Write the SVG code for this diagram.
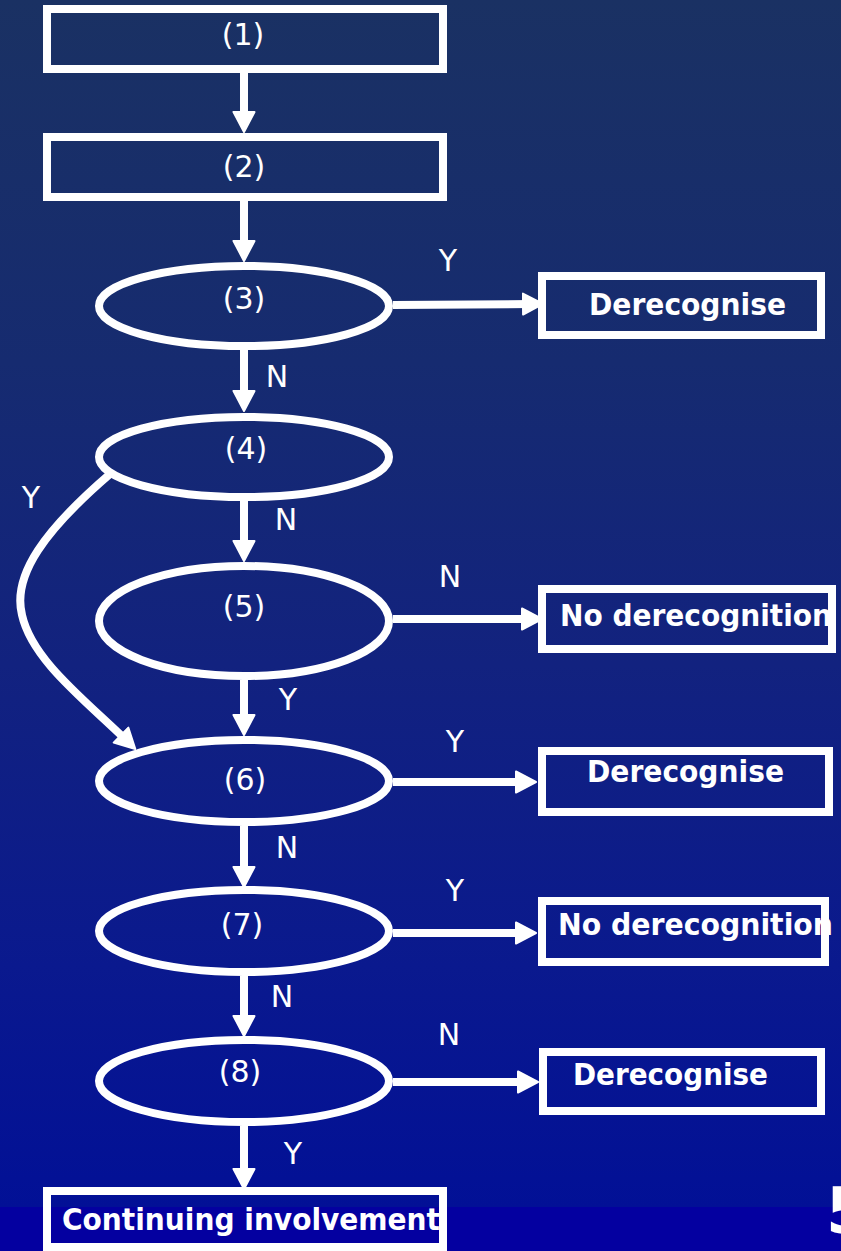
<svg xmlns="http://www.w3.org/2000/svg" width="841" height="1251" viewBox="0 0 841 1251">
<defs>
<linearGradient id="bg" x1="0" y1="0" x2="0" y2="1207" gradientUnits="userSpaceOnUse">
<stop offset="0" stop-color="#1a3163"/>
<stop offset="0.3" stop-color="#162b70"/>
<stop offset="0.55" stop-color="#12227f"/>
<stop offset="0.8" stop-color="#0a198e"/>
<stop offset="1" stop-color="#021096"/>
</linearGradient>
<marker id="ah" viewBox="0 0 22 24" refX="8" refY="12" markerWidth="22" markerHeight="24" markerUnits="userSpaceOnUse" orient="auto">
<path d="M1,1.5 L21,12 L1,22.5 Z" fill="#fff" stroke="#fff" stroke-width="2" stroke-linejoin="round"/>
</marker>
<style>
.box{fill:none;stroke:#fff;stroke-width:8}
.ell{fill:none;stroke:#fff;stroke-width:8}
.con{fill:none;stroke:#fff;stroke-width:8;marker-end:url(#ah)}
.num{font-family:"DejaVu Sans","Liberation Sans",sans-serif;font-size:30px;fill:#fff;text-anchor:middle}
.lbl{font-family:"DejaVu Sans","Liberation Sans",sans-serif;font-size:30px;fill:#fff;text-anchor:middle}
.bt{font-family:"DejaVu Sans","Liberation Sans",sans-serif;font-size:31px;font-weight:bold;fill:#fff}
</style>
</defs>
<rect x="0" y="0" width="841" height="1251" fill="url(#bg)"/>
<rect x="0" y="1207" width="841" height="44" fill="#0400a0"/>

<g id="connectors">
<path class="con" d="M244,73 L244,119"/>
<path class="con" d="M244,201 L244,248"/>
<path class="con" d="M244,350 L244,398"/>
<path class="con" d="M244,501 L244,548"/>
<path class="con" d="M244,680 L244,722"/>
<path class="con" d="M244,826 L244,874"/>
<path class="con" d="M244,976 L244,1023"/>
<path class="con" d="M244,1126 L244,1176"/>
<path class="con" d="M393,305 L530,304"/>
<path class="con" d="M393,619 L529,619"/>
<path class="con" d="M393,782 L523,782"/>
<path class="con" d="M393,933 L523,933"/>
<path class="con" d="M393,1082 L525,1082"/>
<path class="con" d="M110,474 C45,530 12,575 22,615 C32,660 85,700 126,740"/>
</g>
<g id="edge-labels">
<text class="lbl" x="448" y="271">Y</text>
<text class="lbl" x="277" y="387">N</text>
<text class="lbl" x="31" y="508">Y</text>
<text class="lbl" x="286" y="530">N</text>
<text class="lbl" x="450" y="587">N</text>
<text class="lbl" x="288" y="710">Y</text>
<text class="lbl" x="455" y="752">Y</text>
<text class="lbl" x="287" y="858">N</text>
<text class="lbl" x="455" y="901">Y</text>
<text class="lbl" x="282" y="1007">N</text>
<text class="lbl" x="449" y="1045">N</text>
<text class="lbl" x="293" y="1164">Y</text>
</g>

<g id="n1"><rect class="box" x="47" y="9" width="396" height="60"/><text class="num" x="243" y="45">(1)</text></g>
<g id="n2"><rect class="box" x="47" y="137" width="396" height="60"/><text class="num" x="244" y="177">(2)</text></g>
<g id="n3"><ellipse class="ell" cx="244" cy="306" rx="145" ry="40"/><text class="num" x="244" y="309">(3)</text></g>
<g id="n4"><ellipse class="ell" cx="244" cy="457" rx="145" ry="40"/><text class="num" x="246" y="459">(4)</text></g>
<g id="n5"><ellipse class="ell" cx="244" cy="621" rx="145" ry="55"/><text class="num" x="244" y="617">(5)</text></g>
<g id="n6"><ellipse class="ell" cx="244" cy="781" rx="145" ry="41"/><text class="num" x="245" y="790">(6)</text></g>
<g id="n7"><ellipse class="ell" cx="244" cy="931" rx="145" ry="41"/><text class="num" x="242" y="935">(7)</text></g>
<g id="n8"><ellipse class="ell" cx="244" cy="1081" rx="145" ry="41"/><text class="num" x="240" y="1082">(8)</text></g>

<g id="d3"><rect class="box" x="542" y="276" width="279" height="59"/><text class="bt" x="589" y="315" textLength="197" lengthAdjust="spacingAndGlyphs">Derecognise</text></g>
<g id="nd5"><rect class="box" x="542" y="589" width="290" height="60"/><text class="bt" x="560" y="626" textLength="272" lengthAdjust="spacingAndGlyphs">No derecognition</text></g>
<g id="d6"><rect class="box" x="542" y="751" width="287" height="61"/><text class="bt" x="587" y="782" textLength="197" lengthAdjust="spacingAndGlyphs">Derecognise</text></g>
<g id="nd7"><rect class="box" x="542" y="901" width="283" height="61"/><text class="bt" x="558" y="935" textLength="275" lengthAdjust="spacingAndGlyphs">No derecognition</text></g>
<g id="d8"><rect class="box" x="543" y="1052" width="278" height="59"/><text class="bt" x="573" y="1085" textLength="195" lengthAdjust="spacingAndGlyphs">Derecognise</text></g>
<g id="ci"><rect class="box" x="47" y="1191" width="396" height="56"/><text class="bt" x="62" y="1230" textLength="378" lengthAdjust="spacingAndGlyphs">Continuing involvement</text></g>

<text x="826" y="1233" font-family="DejaVu Sans, Liberation Sans, sans-serif" font-size="64" font-weight="bold" fill="#fff">5</text>
</svg>
